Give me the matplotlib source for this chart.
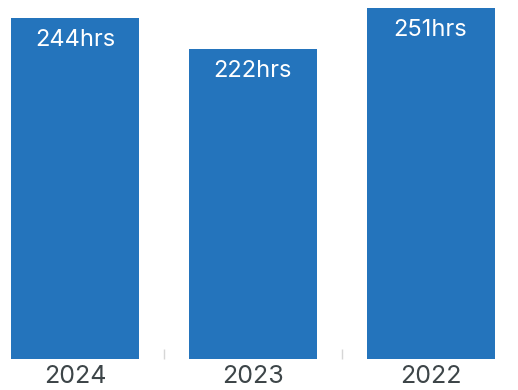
import matplotlib
matplotlib.use('Agg')
import matplotlib.pyplot as plt

years = ['2024', '2023', '2022']
hours = [244, 222, 251]
labels = ['244hrs', '222hrs', '251hrs']

BAR_COLOR = '#2474bc'
TEXT_COLOR = '#3d4548'

plt.rcParams['font.family'] = ['Inter', 'DejaVu Sans']

fig = plt.figure(figsize=(5.18, 3.90), dpi=100)
ax = fig.add_axes([0, 31 / 390, 1, 359 / 390])

xs = list(range(len(years)))
bars = ax.bar(xs, hours, width=0.72, color=BAR_COLOR)

for bar, text in zip(bars, labels):
    ax.annotate(text,
                xy=(bar.get_x() + bar.get_width() / 2, bar.get_height()),
                xytext=(0, -20.2), textcoords='offset points',
                ha='center', va='baseline', color='white', fontsize=17)

ax.set_xlim(-0.422, 2.492)
ax.set_ylim(0, 257)

ax.set_xticks(xs)
ax.set_xticklabels(years, fontsize=18, color=TEXT_COLOR)
ax.tick_params(axis='x', which='major', length=0, pad=4)
# small separators between categories
ax.set_xticks([0.5, 1.5], minor=True)
ax.tick_params(axis='x', which='minor', direction='in', length=7,
               width=1, color='#d6d6d6')
ax.set_yticks([])

for side in ax.spines.values():
    side.set_visible(False)

fig.savefig('out.png', dpi=100)
